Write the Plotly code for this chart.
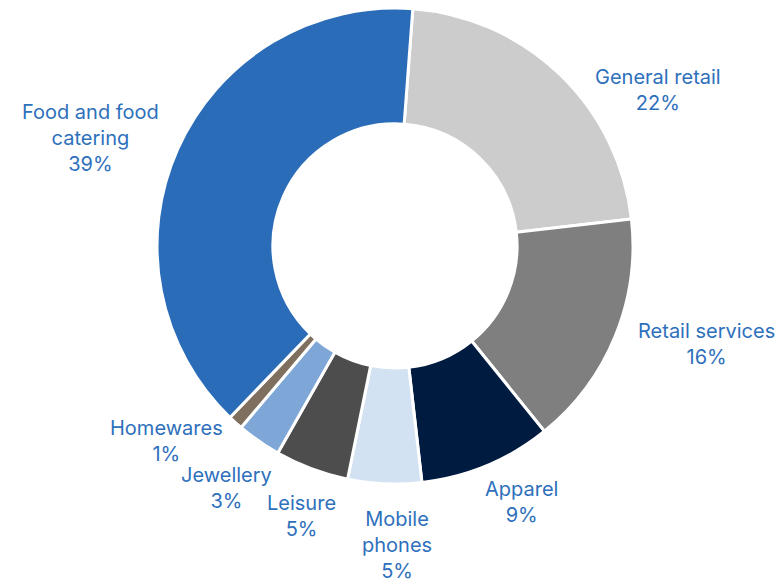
import plotly.graph_objects as go

categories = ["General retail", "Retail services", "Apparel", "Mobile phones",
              "Leisure", "Jewellery", "Homewares", "Food and food catering"]
label_text = ["General retail", "Retail services", "Apparel", "Mobile<br>phones",
              "Leisure", "Jewellery", "Homewares", "Food and food<br>catering"]
shares = [22, 16, 9, 5, 5, 3, 1, 39]
colors = ["#CCCCCC", "#7F7F7F", "#001B40", "#D3E2F2",
          "#4D4D4D", "#7EA6D6", "#7F6F5F", "#2B6CB9"]
# label anchor positions (paper fraction, centre of text block)
label_x = [0.8436, 0.9064, 0.6692, 0.509, 0.3859, 0.291, 0.2141, 0.1154]
label_y = [0.8454, 0.4089, 0.1375, 0.0636, 0.1134, 0.1615, 0.2423, 0.7629]

fig = go.Figure(go.Pie(
    labels=categories,
    values=shares,
    textinfo="none",
    marker=dict(colors=colors, line=dict(color="white", width=3)),
    hole=0.513,
    sort=False,
    direction="clockwise",
    rotation=4.3,
    showlegend=False,
    hoverinfo="label+percent",
    domain=dict(x=[0.2013, 0.8115], y=[0.1684, 0.9863]),
))

for txt, v, x, y in zip(label_text, shares, label_x, label_y):
    fig.add_annotation(
        text=f"{txt}<br>{v}%",
        x=x, y=y, xref="paper", yref="paper",
        xanchor="center", yanchor="middle",
        showarrow=False,
        font=dict(family="Inter, Lato, sans-serif", size=20, color="#2E70BC"),
    )

fig.update_layout(
    width=780, height=582,
    margin=dict(l=0, r=0, t=0, b=0),
    paper_bgcolor="white",
    plot_bgcolor="white",
)

fig.write_html(
    "out.html",
    config={"displayModeBar": False},
    post_script="document.body.style.margin='0';document.body.style.overflow='hidden';",
)
